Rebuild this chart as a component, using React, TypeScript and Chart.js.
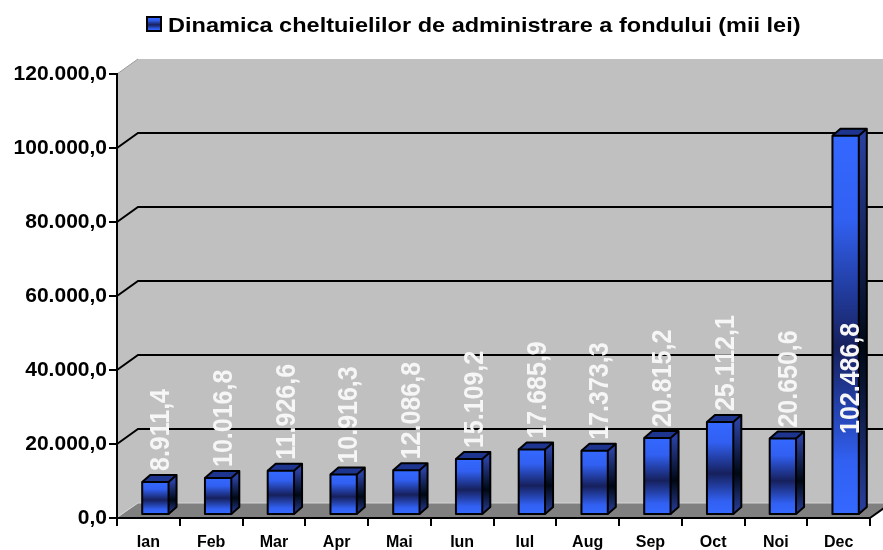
import React, { useEffect, useRef } from 'react';
import { Chart, registerables } from 'chart.js';

Chart.register(...registerables);

// ---- data ----
const months = ['Ian', 'Feb', 'Mar', 'Apr', 'Mai', 'Iun', 'Iul', 'Aug', 'Sep', 'Oct', 'Noi', 'Dec'];
const values = [8911.4, 10016.8, 11926.6, 10916.3, 12086.8, 15109.2, 17685.9, 17373.3, 20815.2, 25112.1, 20650.6, 102486.8];
const seriesName = 'Dinamica cheltuielilor de administrare a fondului (mii lei)';
const yMin = 0;
const yMax = 120000;
const yStep = 20000;

// ---- style ----
const FONT = '"Liberation Sans", Arial, Helvetica, sans-serif';
const WALL = { dx: 21, dy: -15 };
const BAR_SHIFT = { dx: 7, dy: -3 };
const BAR_DEPTH = { dx: 8, dy: -7 };
const STRETCH = 1.13;

function fmt(v: number): string {
  const fixed = Math.abs(v).toFixed(1);
  const [intPart, dec] = fixed.split('.');
  const dotted = intPart.replace(/\B(?=(\d{3})+(?!\d))/g, '.');
  return (v < 0 ? '-' : '') + dotted + ',' + dec;
}

function frontGradient(ctx: CanvasRenderingContext2D, top: number, bottom: number) {
  const g = ctx.createLinearGradient(0, top, 0, bottom);
  g.addColorStop(0, '#3468ff');
  g.addColorStop(0.22, '#3160f2');
  g.addColorStop(0.56, '#16205c');
  g.addColorStop(0.86, '#3160f2');
  g.addColorStop(1, '#3468ff');
  return g;
}

function sideGradient(ctx: CanvasRenderingContext2D, top: number, bottom: number) {
  const g = ctx.createLinearGradient(0, top, 0, bottom);
  g.addColorStop(0, '#2a40a0');
  g.addColorStop(0.56, '#000814');
  g.addColorStop(1, '#2a40a0');
  return g;
}

const threeD = {
  id: 'threeD',
  beforeDraw(chart: any) {
    const { ctx, chartArea: a, scales } = chart;
    const ys = scales.y;
    const L = a.left, R = a.right, T = a.top, B = a.bottom;
    const W = chart.width;
    ctx.save();
    // back wall
    ctx.fillStyle = '#c0c0c0';
    ctx.fillRect(L + WALL.dx, T + WALL.dy, W - L - WALL.dx, B - T);
    // side wall
    ctx.beginPath();
    ctx.moveTo(L, T);
    ctx.lineTo(L + WALL.dx, T + WALL.dy);
    ctx.lineTo(L + WALL.dx, B + WALL.dy);
    ctx.lineTo(L, B);
    ctx.closePath();
    ctx.fill();
    // floor
    ctx.fillStyle = '#808080';
    ctx.beginPath();
    ctx.moveTo(L, B);
    ctx.lineTo(L + WALL.dx, B + WALL.dy);
    ctx.lineTo(R + WALL.dx, B + WALL.dy);
    ctx.lineTo(R, B);
    ctx.closePath();
    ctx.fill();
    // light edges
    ctx.lineWidth = 1;
    ctx.strokeStyle = '#9a9a9a';
    ctx.beginPath();
    ctx.moveTo(L, T);
    ctx.lineTo(L + WALL.dx, T + WALL.dy);
    ctx.stroke();
    ctx.strokeStyle = '#d4d4d4';
    ctx.beginPath();
    ctx.moveTo(L, B - 1);
    ctx.lineTo(L + WALL.dx, B + WALL.dy);
    ctx.lineTo(W, B + WALL.dy);
    ctx.stroke();
    // gridlines on walls
    ctx.strokeStyle = '#000';
    ctx.lineWidth = 2;
    for (let v = yMin + yStep; v < yMax; v += yStep) {
      const py = ys.getPixelForValue(v);
      ctx.beginPath();
      ctx.moveTo(L, py);
      ctx.lineTo(L + WALL.dx, py + WALL.dy);
      ctx.lineTo(W, py + WALL.dy);
      ctx.stroke();
    }
    // floor right edge
    ctx.beginPath();
    ctx.moveTo(R, B);
    ctx.lineTo(R + WALL.dx, B + WALL.dy);
    ctx.stroke();
    ctx.restore();
  },
  afterDatasetsDraw(chart: any) {
    const { ctx, chartArea: a } = chart;
    const meta = chart.getDatasetMeta(0);
    ctx.save();
    ctx.lineJoin = 'round';
    meta.data.forEach((el: any, i: number) => {
      const p = el.getProps(['x', 'y', 'base', 'width'], true);
      const xl = p.x - p.width / 2 + BAR_SHIFT.dx;
      const xr = xl + p.width;
      const top = p.y + BAR_SHIFT.dy;
      const base = p.base + BAR_SHIFT.dy;
      const dx = BAR_DEPTH.dx, dy = BAR_DEPTH.dy;
      // front
      ctx.fillStyle = frontGradient(ctx, top, base);
      ctx.fillRect(xl, top, xr - xl, base - top);
      // side
      ctx.fillStyle = sideGradient(ctx, top, base);
      ctx.beginPath();
      ctx.moveTo(xr, top);
      ctx.lineTo(xr + dx, top + dy);
      ctx.lineTo(xr + dx, base + dy);
      ctx.lineTo(xr, base);
      ctx.closePath();
      ctx.fill();
      // top
      ctx.fillStyle = '#1e3590';
      ctx.beginPath();
      ctx.moveTo(xl, top);
      ctx.lineTo(xl + dx, top + dy);
      ctx.lineTo(xr + dx, top + dy);
      ctx.lineTo(xr, top);
      ctx.closePath();
      ctx.fill();
      // outlines
      ctx.strokeStyle = '#000';
      ctx.lineWidth = 2;
      ctx.strokeRect(xl, top, xr - xl, base - top);
      ctx.beginPath();
      ctx.moveTo(xl, top);
      ctx.lineTo(xl + dx, top + dy);
      ctx.lineTo(xr + dx, top + dy);
      ctx.lineTo(xr + dx, base + dy);
      ctx.lineTo(xr, base);
      ctx.moveTo(xr + dx, top + dy);
      ctx.lineTo(xr, top);
      ctx.stroke();

      // data label
      const text = fmt(values[i]);
      ctx.font = `bold 25px ${FONT}`;
      const tw = ctx.measureText(text).width;
      let start = top - 11;
      if (start - tw < a.top) start = base - 80;
      ctx.save();
      ctx.translate(p.x + 13, start);
      ctx.scale(STRETCH, 1);
      ctx.rotate(-Math.PI / 2);
      ctx.fillStyle = '#f6f6f6';
      ctx.textAlign = 'left';
      ctx.textBaseline = 'middle';
      ctx.fillText(text, 0, 0);
      ctx.restore();
    });
    ctx.restore();
  },
  afterDraw(chart: any) {
    const { ctx } = chart;
    ctx.save();
    // legend box
    ctx.fillStyle = frontGradient(ctx, 17, 31);
    ctx.fillRect(147, 17, 14, 14);
    ctx.strokeStyle = '#000';
    ctx.lineWidth = 2;
    ctx.strokeRect(147, 17, 14, 14);
    // legend text
    ctx.translate(168, 32);
    ctx.scale(1.12, 1);
    ctx.font = `bold 21px ${FONT}`;
    ctx.fillStyle = '#000';
    ctx.textAlign = 'left';
    ctx.textBaseline = 'alphabetic';
    ctx.fillText(seriesName, 0, 0);
    ctx.restore();
  },
};

export default function App() {
  const ref = useRef<HTMLCanvasElement>(null);
  useEffect(() => {
    const chart = new Chart(ref.current as HTMLCanvasElement, {
      type: 'bar',
      data: {
        labels: months,
        datasets: [
          {
            label: seriesName,
            data: values,
            backgroundColor: 'rgba(0,0,0,0)',
            borderWidth: 0,
            categoryPercentage: 0.42,
            barPercentage: 1,
          },
        ],
      },
      options: {
        responsive: false,
        animation: false,
        devicePixelRatio: 1,
        layout: { padding: { left: 0, right: 13, top: 74, bottom: 0 } },
        plugins: {
          legend: { display: false },
          tooltip: { enabled: false },
        },
        scales: {
          x: {
            type: 'category',
            afterFit: (s: any) => { s.height = 32; },
            grid: { drawOnChartArea: false, drawTicks: true, tickLength: 8, color: '#000', lineWidth: 2, offset: true },
            border: { display: true, color: '#000', width: 2 },
            ticks: { color: '#000', font: { family: FONT, size: 16, weight: 'bold' }, padding: 7, maxRotation: 0, autoSkip: false },
          },
          y: {
            min: yMin,
            max: yMax,
            afterFit: (s: any) => { s.width = 117; },
            grid: { drawOnChartArea: false, drawTicks: true, tickLength: 8, color: '#000', lineWidth: 2 },
            border: { display: true, color: '#000', width: 2 },
            ticks: {
              stepSize: yStep,
              color: '#000',
              padding: 2,
              font: { family: FONT, size: 21, weight: 'bold' },
              callback: (v: any) => fmt(Number(v)),
            },
          },
        },
      } as any,
      plugins: [threeD],
    });
    return () => chart.destroy();
  }, []);
  return (
    <div style={{ position: 'absolute', left: 0, top: 0, width: 883, height: 550 }}>
      <canvas ref={ref} width={883} height={550} style={{ display: 'block', width: 883, height: 550 }} />
    </div>
  );
}
